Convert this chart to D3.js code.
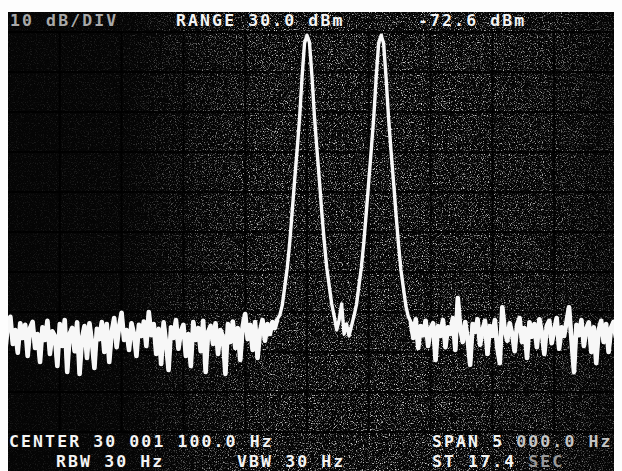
<!DOCTYPE html>
<html>
<head>
<meta charset="utf-8">
<script src="https://cdn.jsdelivr.net/npm/d3@7"></script>
<style>
  html, body { margin: 0; padding: 0; background: #fff; }
  svg { display: block; }
  .crt { font-family: "DejaVu Sans Mono", monospace; font-weight: bold; font-size: 16.5px; letter-spacing: 2.1px; }
</style>
</head>
<body>
<script>
// sweep: CENTER 30 001 100.0 Hz, SPAN 5 000.0 Hz, one reading every 20 Hz
var startHz = 29998600;
var stopHz  = 30003600;
var stepHz  = 20;

// levels in dB below the top graticule line (10 dB/div)
var noiseLeft = [
  -73.5, -77.2, -72.0, -79.5, -73.0, -71.2, -78.0, -74.5, -80.2, -72.8,
  -76.5, -73.2, -81.0, -74.0, -72.5, -79.0, -75.5, -82.5, -73.8, -77.0,
  -72.2, -80.5, -74.8, -76.0, -83.5, -73.0, -78.5, -72.0, -85.0, -75.5,
  -74.0, -79.8, -72.6, -85.5, -76.5, -73.5, -81.5, -72.8, -77.5, -84.0,
  -74.2, -76.8, -72.5, -80.0, -73.0, -82.5, -75.0, -71.5, -78.8, -73.6,
  -70.2, -77.0, -74.5, -79.5, -72.8, -75.5, -81.0, -73.2, -76.0, -72.4,
  -78.5, -70.0, -75.8, -73.0, -80.5, -74.2, -83.0, -72.6, -77.8, -84.5,
  -73.8, -76.5, -72.0, -79.2, -74.8, -73.2, -81.0, -75.5, -83.5, -72.5,
  -77.0, -74.0, -79.8, -72.2, -85.0, -75.0, -73.5, -78.0, -72.8, -80.5,
  -74.5, -76.2, -85.5, -73.0, -77.5, -72.4, -79.0, -74.0, -82.0, -73.5,
  -70.5, -76.8, -73.2, -79.5, -72.5, -81.5, -74.8, -72.0, -77.2, -73.0,
  -75.5, -72.5, -74.0, -71.8
];
var peakA = [
  -70.8, -68.3, -63.7, -59.0, -52.7, -45.0, -37.0, -29.5, -21.5, -11.3, -2.8,
  -0.8,
  -2.6, -11.0, -21.0, -29.2, -37.0, -45.2, -52.5, -59.0, -63.5, -68.0, -71.0
];
var valley = [-74.5, -72.0, -68.0, -75.5, -73.0, -76.0, -73.5];
var peakB = [
  -71.0, -68.2, -63.5, -58.8, -52.5, -45.0, -37.2, -29.4, -21.4, -11.2, -2.7,
  -0.8,
  -2.9, -11.5, -21.6, -29.8, -37.5, -45.5, -53.0, -59.5, -64.0, -68.5, -71.2
];
var noiseRight = [
  -72.5, -76.5, -71.8, -79.0, -73.5, -75.8, -72.2, -78.5, -74.0, -72.8,
  -82.0, -73.5, -76.0, -72.0, -78.8, -73.8, -75.5, -71.5, -79.5, -66.5,
  -74.0, -77.5, -72.5, -76.8, -83.2, -73.0, -75.0, -71.8, -78.2, -74.5,
  -72.2, -80.5, -73.5, -76.0, -72.0, -79.0, -82.8, -68.8, -74.5, -77.2,
  -72.8, -75.5, -79.8, -73.2, -71.5, -77.5, -74.0, -81.5, -72.6, -76.2,
  -73.0, -78.8, -71.8, -75.2, -80.5, -73.5, -72.2, -77.8, -74.5, -71.5,
  -79.2, -73.8, -76.0, -72.4, -68.8, -77.0, -85.0, -73.2, -75.8, -72.0,
  -78.5, -74.2, -72.6, -80.0, -73.8, -82.8, -74.5, -72.2, -77.5, -73.0,
  -80.0, -74.0, -72.5, -76.5
];

// screen annotations
var topLabels  = ["10 dB/DIV", "RANGE 30.0 dBm", "-72.6 dBm"];
var rowOne     = ["CENTER 30 001 100.0 Hz", "SPAN 5 000.0 Hz"];
var rowTwo     = ["RBW 30 Hz", "VBW 30 Hz", "ST 17.4 SEC"];

var width = 622, height = 471;
var crt = {left: 8, right: 614, top: 12, bottom: 471};

var svg = d3.select("body").append("svg")
    .attr("width", width)
    .attr("height", height);

var defs = svg.append("defs");

defs.append("clipPath").attr("id", "screen")
  .append("rect")
    .attr("x", crt.left).attr("y", crt.top)
    .attr("width", crt.right - crt.left).attr("height", crt.bottom - crt.top);

// film grain on the phosphor
var grain = defs.append("filter").attr("id", "grain")
    .attr("x", 0).attr("y", 0).attr("width", "100%").attr("height", "100%");
grain.append("feTurbulence")
    .attr("type", "fractalNoise").attr("baseFrequency", 0.85)
    .attr("numOctaves", 2).attr("seed", 7).attr("result", "t");
grain.append("feColorMatrix").attr("type", "matrix")
    .attr("values", "0 0 0 0 1  0 0 0 0 1  0 0 0 0 1  4 0 0 0 -2.15");

var shade = defs.append("linearGradient").attr("id", "shade")
    .attr("x1", 0).attr("x2", 1).attr("y1", 0).attr("y2", 0);
[[0, 0.08], [0.2, 0.15], [0.42, 0.8], [0.7, 0.85], [0.9, 0.65], [1, 0.35]].forEach(function(s) {
  shade.append("stop").attr("offset", s[0]).attr("stop-color", "#fff").attr("stop-opacity", s[1]);
});
defs.append("mask").attr("id", "grainMask")
  .append("rect")
    .attr("x", crt.left).attr("y", crt.top)
    .attr("width", crt.right - crt.left).attr("height", crt.bottom - crt.top)
    .attr("fill", "url(#shade)");

svg.append("rect")
    .attr("width", width).attr("height", height)
    .attr("fill", "#fdfdfd");

var inner = svg.append("g").attr("clip-path", "url(#screen)");

inner.append("rect")
    .attr("x", crt.left).attr("y", crt.top)
    .attr("width", crt.right - crt.left).attr("height", crt.bottom - crt.top)
    .attr("fill", "#050505");

inner.append("rect")
    .attr("x", crt.left).attr("y", crt.top)
    .attr("width", crt.right - crt.left).attr("height", crt.bottom - crt.top)
    .attr("filter", "url(#grain)")
    .attr("mask", "url(#grainMask)");

// scales
var x = d3.scaleLinear().domain([startHz, stopHz]).range([-2, 616]);
var y = d3.scaleLinear().domain([0, -100]).range([32, 432]);

// graticule: 500 Hz and 10 dB per division
var grid = inner.append("g")
    .attr("stroke", "#000")
    .attr("stroke-width", 2.2)
    .attr("stroke-opacity", 0.85);

grid.selectAll(".vline")
    .data(d3.range(startHz, stopHz + 1, 500))
    .enter().append("line")
    .attr("class", "vline")
    .attr("x1", function(d) { return x(d); })
    .attr("x2", function(d) { return x(d); })
    .attr("y1", y(0)).attr("y2", y(-100));

grid.selectAll(".hline")
    .data(d3.range(0, -101, -10))
    .enter().append("line")
    .attr("class", "hline")
    .attr("x1", x(startHz)).attr("x2", x(stopHz))
    .attr("y1", function(d) { return y(d); })
    .attr("y2", function(d) { return y(d); });

// trace
var levels = noiseLeft.concat(peakA, valley, peakB, noiseRight);
var points = levels.map(function(v, i) { return [startHz + i * stepHz, v]; });

var line = d3.line()
    .x(function(d) { return x(d[0]); })
    .y(function(d) { return y(d[1]); });

var trace = inner.append("g")
    .attr("fill", "none")
    .attr("stroke", "#f7f7f7")
    .attr("stroke-linejoin", "round");

trace.append("path")
    .datum(points)
    .attr("d", line)
    .attr("stroke-width", 3.4);

// the noise floor burns in a bit wider on the film
var nL = noiseLeft.length;
var nR = levels.length - noiseRight.length;
[points.slice(0, nL), points.slice(nR)].forEach(function(seg) {
  trace.append("path")
      .datum(seg)
      .attr("d", line)
      .attr("stroke-width", 4.6);
});

// annotations
var txt = inner.append("g").attr("class", "crt").attr("fill", "#f4f4f4");

function label(str, px, py, dimFrom, dimColor) {
  var t = txt.append("text").attr("x", px).attr("y", py);
  if (dimFrom == null) {
    t.text(str);
  } else {
    t.append("tspan").text(str.slice(0, dimFrom));
    t.append("tspan").attr("fill", dimColor).text(str.slice(dimFrom));
  }
}

label(topLabels[0], 10, 26, 0, "#a9a9a9");
label(topLabels[1], 176, 26);
label(topLabels[2], 418, 26);

label(rowOne[0], 9, 447);
label(rowOne[1], 432, 447, 7, "#c4c4c4");

label(rowTwo[0], 56, 467);
label(rowTwo[1], 237, 467);
label(rowTwo[2], 432, 467, 8, "#9a9a9a");
</script>
</body>
</html>
